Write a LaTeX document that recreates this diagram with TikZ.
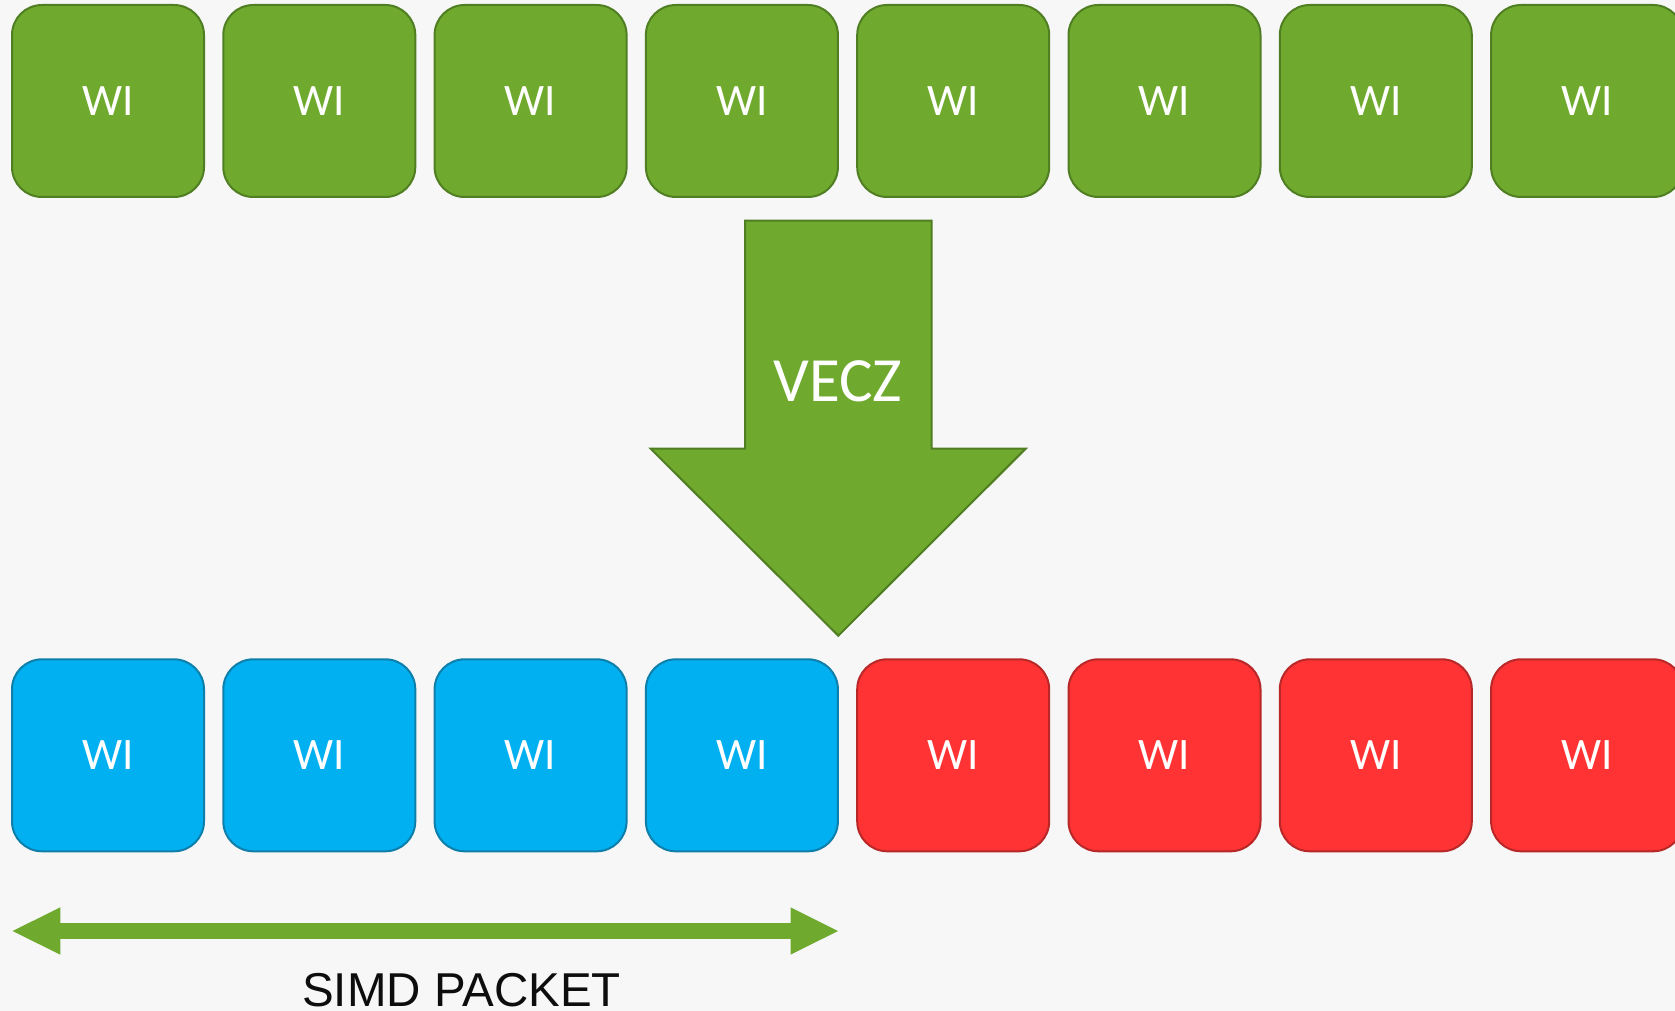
\documentclass[tikz,border=0pt]{standalone}
\usepackage{fontspec}
\setmainfont{Carlito}
\newfontfamily\arialfont{Liberation Sans}
\definecolor{bgc}{HTML}{F7F7F7}
\definecolor{grnfill}{HTML}{6FAA2F}
\definecolor{grndraw}{HTML}{507E22}
\definecolor{bluefill}{HTML}{00B0F0}
\definecolor{bluedraw}{HTML}{0E7FAA}
\definecolor{redfill}{HTML}{FF3333}
\definecolor{reddraw}{HTML}{B82828}
\tikzset{
  wibox/.style={rectangle, rounded corners=30pt, minimum width=192pt, minimum height=192pt,
    line width=2pt, text=white, inner sep=0pt,
    font=\fontsize{45}{50}\selectfont},
  wigreen/.style={wibox, fill=grnfill, draw=grndraw},
  wiblue/.style={wibox, fill=bluefill, draw=bluedraw},
  wired/.style={wibox, fill=redfill, draw=reddraw},
}
\begin{document}
\begin{tikzpicture}[x=1pt,y=-1pt]
\fill[bgc] (0,0) rectangle (1675,1011);
\useasboundingbox (0,0) rectangle (1675,1011);
\clip (0,0) rectangle (1675,1011);
\foreach \i in {0,...,7}{
  \node[wigreen] (t\i) at ({108+211.3*\i},101) {WI};
}
\foreach \i in {0,...,3}{
  \node[wiblue] (b\i) at ({108+211.3*\i},755.3) {WI};
}
\foreach \i in {4,...,7}{
  \node[wired] (b\i) at ({108+211.3*\i},755.3) {WI};
}
% big down arrow
\draw[fill=grnfill, draw=grndraw, line width=2pt]
  (745,220.7) -- (931.7,220.7) -- (931.7,448.7) -- (1025.7,448.7) -- (838.3,635.7)
  -- (650.7,448.7) -- (745,448.7) -- cycle;
\node[text=white, inner sep=0pt, font=\fontsize{63}{70}\selectfont] (vecz) at (838,381.7) {VECZ};
% double arrow
\fill[grnfill] (12.6,931) -- (60.3,907.3) -- (60.3,923.2) -- (790.5,923.2) -- (790.5,907.3)
  -- (838,931) -- (790.5,954.7) -- (790.5,938.8) -- (60.3,938.8) -- (60.3,954.7) -- cycle;
\node[anchor=base, inner sep=0pt, text=black!95, font=\arialfont\fontsize{47.5}{52}\selectfont] (simd) at (461.5,1006) {SIMD PACKET};
\end{tikzpicture}
\end{document}
